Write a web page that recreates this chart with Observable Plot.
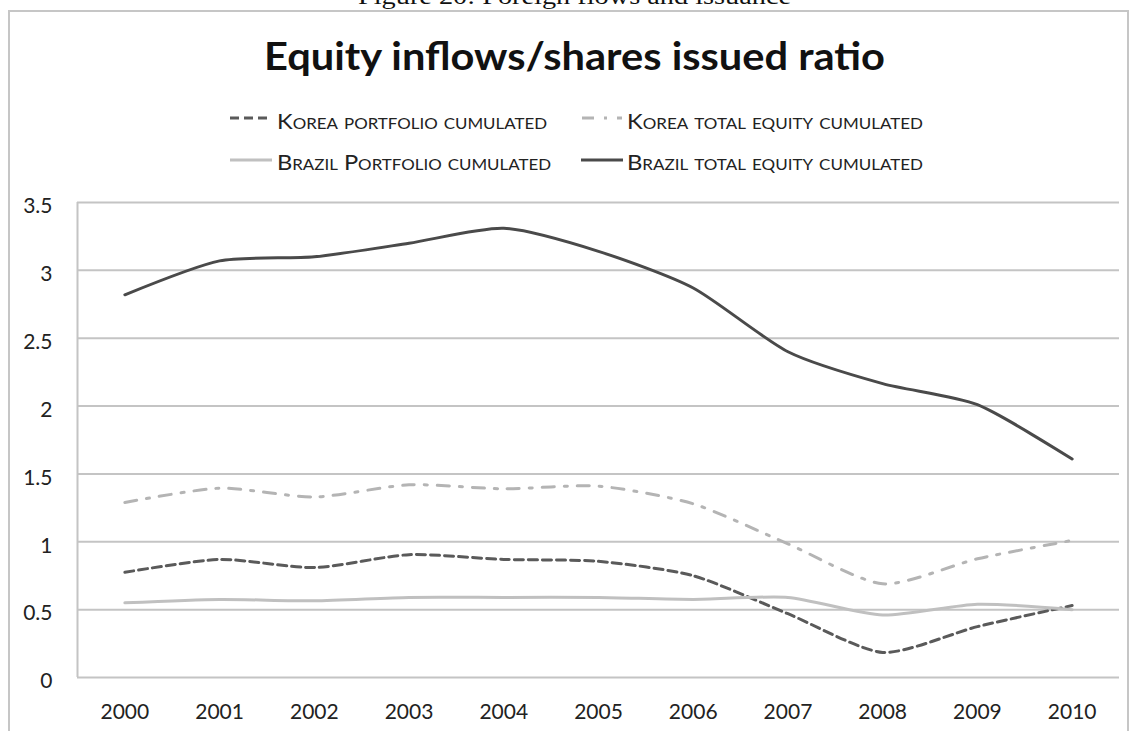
<!DOCTYPE html>
<html>
<head>
<meta charset="utf-8">
<script src="https://cdn.jsdelivr.net/npm/d3@7"></script>
<script src="https://cdn.jsdelivr.net/npm/@observablehq/plot@0.6"></script>
<style>
  html, body { margin: 0; padding: 0; background: #fff; }
  #wrap { position: relative; width: 1133px; height: 731px; overflow: hidden; background: #fff; }
  .abs { position: absolute; white-space: nowrap; }
  #caption { font-family: "Liberation Serif", "DejaVu Serif", serif; font-size: 24px; line-height: 1; color: #111; transform-origin: left top; }
  #title { font-family: Lato, "Open Sans", sans-serif; font-weight: 700; font-size: 39px; line-height: 1; color: #111; transform-origin: left top; }
  .leg { font-family: Lato, "Open Sans", sans-serif; font-size: 21px; line-height: 1; color: #222; font-variant: small-caps; transform-origin: left top; }
  #frame { position: absolute; left: 8px; top: 10px; width: 1121px; height: 800px; box-sizing: border-box; border: 2px solid #c6c6c6; z-index: 5; pointer-events: none; }
  #chart { position: absolute; left: 0; top: 190px; }
</style>
</head>
<body>
<div id="wrap">
  <div id="caption" class="abs" data-w="433" style="left:358px; top:-16px;">Figure 20: Foreign flows and issuance</div>
  <div id="title" class="abs" data-w="621" style="left:264px; top:36px;">Equity inflows/shares issued ratio</div>
  <div id="legend"></div>
  <div id="chart"></div>
  <div id="frame"></div>
</div>
<script>
// ---- data ----
const years = [2000, 2001, 2002, 2003, 2004, 2005, 2006, 2007, 2008, 2009, 2010];
const koreaPortfolio  = [0.775, 0.87, 0.81, 0.905, 0.87, 0.856, 0.75, 0.47, 0.185, 0.375, 0.53];
const koreaTotal      = [1.29, 1.395, 1.33, 1.42, 1.39, 1.41, 1.28, 0.985, 0.69, 0.875, 1.01];
const brazilPortfolio = [0.55, 0.575, 0.565, 0.59, 0.59, 0.59, 0.575, 0.59, 0.46, 0.54, 0.50];
const brazilTotal     = [2.82, 3.07, 3.10, 3.20, 3.31, 3.14, 2.87, 2.40, 2.165, 2.01, 1.61];
const seriesNames = ["Korea portfolio cumulated", "Korea total equity cumulated", "Brazil Portfolio cumulated", "Brazil total equity cumulated"];
const yTicks = [0, 0.5, 1, 1.5, 2, 2.5, 3, 3.5];

// ---- styles per series ----
const styles = {
  "Korea portfolio cumulated":     {stroke: "#5a5a5a", dash: "9,5"},
  "Korea total equity cumulated":  {stroke: "#b4b4b4", dash: "12,10,3,10"},
  "Brazil Portfolio cumulated":    {stroke: "#c0c0c0", dash: null},
  "Brazil total equity cumulated": {stroke: "#4a4a4a", dash: null}
};
const values = [koreaPortfolio, koreaTotal, brazilPortfolio, brazilTotal];
const rows = [];
seriesNames.forEach((name, i) => years.forEach((yr, j) => rows.push({series: name, year: yr, value: values[i][j]})));

const lineMarks = seriesNames.map(name => Plot.line(rows.filter(d => d.series === name), {
  x: "year", y: "value", stroke: styles[name].stroke, strokeWidth: 3,
  strokeDasharray: styles[name].dash || undefined, curve: "cardinal", tension: 0.3
}));

const chart = Plot.plot({
  width: 1133, height: 541,
  marginTop: 12, marginBottom: 54, marginLeft: 77, marginRight: 14,
  style: {background: "transparent", fontFamily: "Lato, 'Open Sans', sans-serif", fontSize: "21px", color: "#222"},
  x: {domain: [years[0] - 0.5, years[years.length - 1] + 0.5], label: null},
  y: {domain: [0, 3.5], label: null},
  marks: [
    Plot.ruleY(yTicks, {stroke: "#c4c4c4", strokeWidth: 2}),
    Plot.ruleX([years[0] - 0.5], {stroke: "#c4c4c4", strokeWidth: 2}),
    ...lineMarks,
    Plot.axisX({ticks: years, tickFormat: d => String(d), tickSize: 0, tickPadding: 27, label: null, fontSize: 21}),
    Plot.axisY({ticks: yTicks, tickFormat: d => String(d), tickSize: 0, tickPadding: 25, dy: 4, label: null, fontSize: 21})
  ]
});
document.getElementById("chart").appendChild(chart);

// ---- legend (HTML) ----
const legendLayout = [
  {name: seriesNames[0], sx: 230, sw: 40, sy: 118, tx: 277, ty: 110, tw: 270},
  {name: seriesNames[1], sx: 582, sw: 40, sy: 118, tx: 627, ty: 110, tw: 296},
  {name: seriesNames[2], sx: 230, sw: 42, sy: 160, tx: 277, ty: 151, tw: 274},
  {name: seriesNames[3], sx: 581, sw: 42, sy: 160, tx: 627, ty: 151, tw: 296}
];
const legend = document.getElementById("legend");
legendLayout.forEach(l => {
  const st = styles[l.name];
  const ns = "http://www.w3.org/2000/svg";
  const svg = document.createElementNS(ns, "svg");
  svg.setAttribute("width", l.sw); svg.setAttribute("height", 10);
  svg.style.position = "absolute"; svg.style.left = l.sx + "px"; svg.style.top = (l.sy - 5) + "px";
  const ln = document.createElementNS(ns, "line");
  ln.setAttribute("x1", 0); ln.setAttribute("x2", l.sw); ln.setAttribute("y1", 5); ln.setAttribute("y2", 5);
  ln.setAttribute("stroke", st.stroke); ln.setAttribute("stroke-width", 3);
  if (st.dash) ln.setAttribute("stroke-dasharray", st.dash);
  svg.appendChild(ln);
  legend.appendChild(svg);
  const t = document.createElement("div");
  t.className = "abs leg"; t.textContent = l.name;
  t.style.left = l.tx + "px"; t.style.top = l.ty + "px";
  t.dataset.w = l.tw;
  legend.appendChild(t);
});

// ---- fit text widths ----
document.querySelectorAll("[data-w]").forEach(el => {
  const w = el.getBoundingClientRect().width;
  const target = +el.dataset.w;
  if (w > 0) el.style.transform = `scaleX(${target / w})`;
});
</script>
</body>
</html>
